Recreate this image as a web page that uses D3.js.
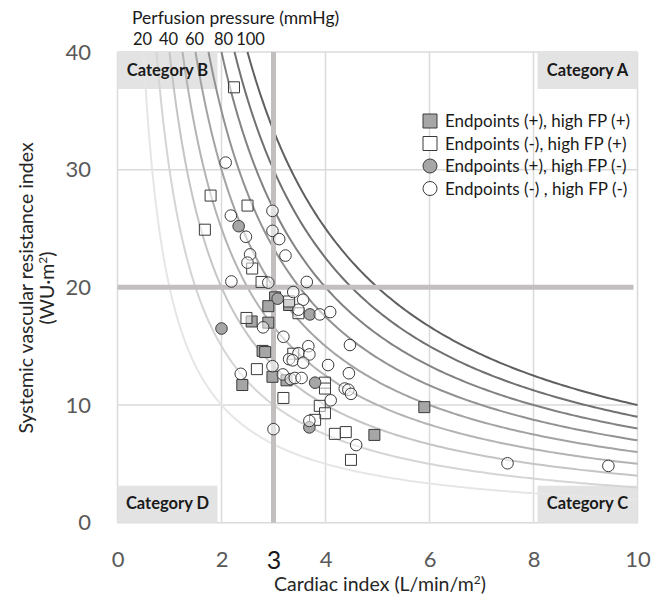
<!DOCTYPE html>
<html lang="en">
<head>
  <title>Perfusion pressure isobars</title>
  <script type="text/javascript" src="https://cdnjs.cloudflare.com/ajax/libs/d3/7.8.5/d3.min.js"></script>
  <style>
    body { margin: 0; background: #fff; }
    svg { font-family: Lato, "Open Sans", sans-serif; }
  </style>
</head>
<body>
  <script type="text/javascript">
    var width = 652;
    var height = 598;

    // data: [cardiac index, SVRI]
    var posHighFP = [[3.03,19.15],[2.90,18.4],[3.30,18.5],[2.58,17.1],[2.90,17.0],[2.79,14.6],
      [2.84,14.5],[2.98,12.4],[3.25,12.1],[2.40,11.7],[4.94,7.46],[5.90,9.82]];
    var negHighFP = [[2.24,37.0],[1.79,27.8],[2.50,26.95],[1.68,24.9],[2.59,21.6],[2.77,20.46],
      [3.30,18.8],[3.48,17.8],[2.48,17.4],[3.38,14.36],[2.68,13.05],[3.99,11.9],[3.99,11.4],
      [3.19,10.6],[3.89,9.93],[3.99,9.3],[3.80,8.74],[4.18,7.55],[4.39,7.7],[4.49,5.34]];
    var posLowFP = [[2.33,25.2],[3.08,19.04],[3.70,17.7],[2.00,16.5],[3.80,11.9],[3.69,8.1]];
    var negLowFP = [[2.08,30.6],[2.18,26.1],[2.98,26.5],[2.98,24.8],[3.11,24.1],[2.47,24.3],
      [3.23,22.7],[2.55,22.8],[2.50,22.1],[2.19,20.5],[2.90,20.4],[3.64,20.46],[3.38,19.6],
      [3.57,18.95],[3.48,18.1],[3.89,17.7],[4.09,17.9],[2.80,16.6],[3.19,15.8],[3.67,15.0],
      [4.47,15.1],[3.48,14.4],[3.69,14.3],[3.30,13.9],[3.37,13.8],[3.57,13.6],[4.05,13.4],
      [2.98,13.3],[2.37,12.65],[4.45,12.7],[3.18,12.6],[3.33,12.2],[3.41,12.3],[3.54,12.3],
      [4.37,11.4],[4.44,11.3],[4.49,10.95],[4.10,10.4],[3.69,8.65],[3.0,7.95],[4.59,6.6],
      [7.50,5.05],[9.44,4.83]];

    var pressures = [20, 30, 40, 50, 60, 70, 80, 90, 100];
    var pressureLabels = [20, 40, 60, 80, 100];
    var xTicks = [0, 2, 3, 4, 6, 8, 10];
    var yTicks = [0, 10, 20, 30, 40];
    var legendLabels = ["Endpoints (+), high FP (+)", "Endpoints (-), high FP (+)",
      "Endpoints (+), high FP (-)", "Endpoints (-) , high FP (-)"];

    var x = d3.scaleLinear().domain([0, 10]).range([117.5, 637.5]);
    var y = d3.scaleLinear().domain([0, 40]).range([522.7, 52]);
    var curveColor = d3.scaleLinear().domain([20, 100]).range(["#e6e6e6", "#606060"]);

    var svg = d3.select("body").append("svg")
      .attr("width", width)
      .attr("height", height);

    // gridlines
    svg.append("g").selectAll("line")
      .data([0, 2, 4, 6, 8, 10])
      .enter().append("line")
      .attr("x1", function (d) { return x(d); })
      .attr("x2", function (d) { return x(d); })
      .attr("y1", y(0)).attr("y2", y(40))
      .attr("stroke", "#dadada").attr("stroke-width", 1.5);
    svg.append("g").selectAll("line")
      .data([0, 10, 30, 40])
      .enter().append("line")
      .attr("y1", function (d) { return y(d); })
      .attr("y2", function (d) { return y(d); })
      .attr("x1", x(0)).attr("x2", x(10))
      .attr("stroke", "#dadada").attr("stroke-width", 1.5);

    // category boxes
    var cats = [
      {name: "Category B", cx: 0, cy: 40, ax: "start", ay: "top"},
      {name: "Category A", cx: 10, cy: 40, ax: "end", ay: "top"},
      {name: "Category D", cx: 0, cy: 0, ax: "start", ay: "bottom"},
      {name: "Category C", cx: 10, cy: 0, ax: "end", ay: "bottom"}
    ];
    var boxW = 100, boxH = 37;
    cats.forEach(function (c) {
      c.bx = c.ax === "start" ? x(c.cx) : x(c.cx) - boxW;
      c.by = c.ay === "top" ? y(c.cy) : y(c.cy) - boxH;
    });
    svg.append("g").selectAll("rect")
      .data(cats).enter().append("rect")
      .attr("x", function (d) { return d.bx; })
      .attr("y", function (d) { return d.by; })
      .attr("width", boxW).attr("height", boxH)
      .attr("fill", "#e3e3e3");

    // isobars: CI * SVRI = pressure
    var line = d3.line()
      .x(function (d) { return x(d[0]); })
      .y(function (d) { return y(d[1]); });
    svg.append("g").selectAll("path")
      .data(pressures).enter().append("path")
      .attr("d", function (p) {
        var start = p / 40;
        var pts = d3.range(0, 201).map(function (i) {
          var ci = start + (10 - start) * Math.pow(i / 200, 2);
          return [ci, p / ci];
        });
        return line(pts);
      })
      .attr("fill", "none")
      .attr("stroke", function (p) { return curveColor(p); })
      .attr("stroke-width", 2);

    // thresholds
    svg.append("line")
      .attr("x1", x(3)).attr("x2", x(3))
      .attr("y1", y(0)).attr("y2", y(40))
      .attr("stroke", "#c3bfbf").attr("stroke-width", 5);
    svg.append("line")
      .attr("x1", x(0)).attr("x2", x(10) - 4)
      .attr("y1", y(20)).attr("y2", y(20))
      .attr("stroke", "#c3bfbf").attr("stroke-width", 5);

    // category labels
    svg.append("g").selectAll("text")
      .data(cats).enter().append("text")
      .attr("x", function (d) { return d.bx + boxW / 2; })
      .attr("y", function (d) { return d.by + 23.5; })
      .attr("text-anchor", "middle")
      .attr("font-weight", "bold")
      .attr("font-size", 16.5)
      .attr("fill", "#1a1a1a")
      .text(function (d) { return d.name; });

    // points
    var series = [
      {data: posHighFP, shape: "square", fill: "#a6a6a6", op: 1},
      {data: negHighFP, shape: "square", fill: "#ffffff", op: 0.5},
      {data: posLowFP, shape: "circle", fill: "#a6a6a6", op: 1},
      {data: negLowFP, shape: "circle", fill: "#ffffff", op: 0.5}
    ];
    var sq = d3.symbol().type(d3.symbolSquare).size(121);
    var ci = d3.symbol().type(d3.symbolCircle).size(Math.PI * 5.8 * 5.8);
    series.forEach(function (s) {
      svg.append("g").selectAll("path")
        .data(s.data).enter().append("path")
        .attr("transform", function (d) { return "translate(" + x(d[0]) + "," + y(d[1]) + ")"; })
        .attr("d", s.shape === "square" ? sq : ci)
        .attr("fill", s.fill)
        .attr("fill-opacity", s.op)
        .attr("stroke", "#3a3a3a")
        .attr("stroke-width", 1);
    });

    // axes
    var xAxis = svg.append("g")
      .attr("transform", "translate(0,551)")
      .call(d3.axisBottom(x).tickValues(xTicks).tickSize(0).tickPadding(0).tickFormat(d3.format("d")));
    xAxis.select(".domain").remove();
    xAxis.selectAll("text")
      .attr("font-family", "Lato, sans-serif")
      .attr("font-size", function (d) { return d === 3 ? 25 : 22; })
      .attr("fill", function (d) { return d === 3 ? "#1a1a1a" : "#595959"; });

    var yAxis = svg.append("g")
      .attr("transform", "translate(91,0)")
      .call(d3.axisLeft(y).tickValues(yTicks).tickSize(0).tickPadding(0));
    yAxis.select(".domain").remove();
    yAxis.selectAll("text")
      .attr("font-family", "Lato, sans-serif")
      .attr("font-size", 22)
      .attr("fill", "#595959");

    // titles
    svg.append("text")
      .attr("x", 380).attr("y", 591)
      .attr("text-anchor", "middle")
      .attr("font-size", 19.5)
      .attr("fill", "#262626")
      .html("Cardiac index (L/min/m<tspan dy='-7' font-size='12'>2</tspan><tspan dy='7'>)</tspan>");

    var yt = svg.append("g").attr("transform", "translate(33,288) rotate(-90)");
    yt.append("text")
      .attr("text-anchor", "middle")
      .attr("font-size", 19.5)
      .attr("fill", "#262626")
      .text("Systemic vascular resistance index");
    yt.append("text")
      .attr("y", 21)
      .attr("text-anchor", "middle")
      .attr("font-size", 19.5)
      .attr("fill", "#262626")
      .html("(WU·m<tspan dy='-7' font-size='12'>2</tspan><tspan dy='7'>)</tspan>");

    svg.append("text")
      .attr("x", 132).attr("y", 24)
      .attr("font-size", 17.5)
      .attr("fill", "#1a1a1a")
      .text("Perfusion pressure (mmHg)");
    svg.append("g").selectAll("text")
      .data(pressureLabels).enter().append("text")
      .attr("x", function (p) { return x(p / 40) + (p === 100 ? 3 : (p === 80 ? 2 : -1)); })
      .attr("y", 45)
      .attr("text-anchor", "middle")
      .attr("font-size", 16.5)
      .attr("fill", "#1a1a1a")
      .text(function (p) { return p; });

    // legend
    var legend = svg.append("g").attr("transform", "translate(430,121)");
    var lsq = d3.symbol().type(d3.symbolSquare).size(196);
    var lci = d3.symbol().type(d3.symbolCircle).size(Math.PI * 7 * 7);
    legendLabels.forEach(function (lab, i) {
      var s = series[i];
      var row = legend.append("g").attr("transform", "translate(0," + (i * 22.5) + ")");
      row.append("path")
        .attr("d", s.shape === "square" ? lsq : lci)
        .attr("fill", s.fill)
        .attr("stroke", "#3a3a3a")
        .attr("stroke-width", 1);
      row.append("text")
        .attr("x", 15).attr("y", 6)
        .attr("font-size", 17)
        .attr("fill", "#1a1a1a")
        .text(lab);
    });
  </script>
</body>
</html>
